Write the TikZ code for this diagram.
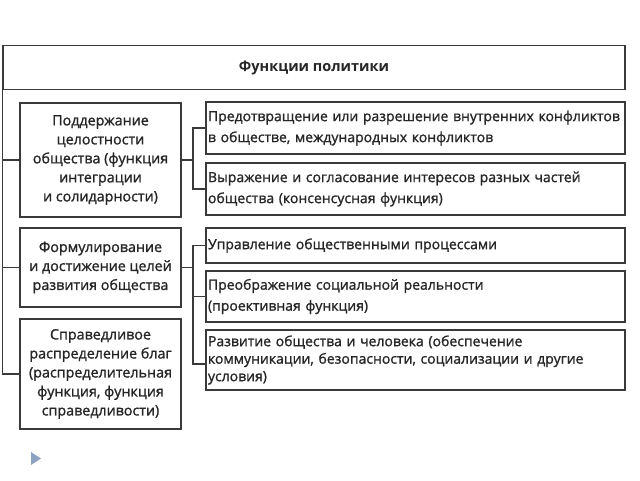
\documentclass[tikz,border=0pt]{standalone}
\usepackage{fontspec}
\setmainfont{Open Sans}
\newfontfamily\bodyfont{Open Sans}[FakeBold=1.2]
\definecolor{linec}{HTML}{3A3A3A}
\definecolor{textc}{HTML}{262626}
\definecolor{bullet}{RGB}{140,162,192}
\begin{document}
\begin{tikzpicture}[x=1pt,y=-1pt,
  box/.style={draw=linec,line width=1.3pt,inner sep=0pt,text=textc},
  leftbox/.style={box,minimum width=161pt,align=center,font=\bodyfont\fontsize{14.3}{19}\selectfont},
  rightbox/.style={box,minimum width=419pt,text width=415pt,align=left,font=\bodyfont\fontsize{14}{21}\selectfont},
  conn/.style={draw=linec,line width=1.3pt}]
\useasboundingbox (0,0) rectangle (640,480);
\fill[white] (0,0) rectangle (640,480);

\node[box,minimum width=622pt,minimum height=44pt,font=\fontsize{14.5}{18}\selectfont\bfseries] (T) at (314,67.5) {Функции политики};

\node[leftbox,minimum height=114pt] (L1) at (100.5,160) {Поддержание\\целостности\\общества (функция\\интеграции\\и солидарности)};
\node[leftbox,minimum height=79pt] (L2) at (100.5,267.5) {Формулирование\\и достижение целей\\развития общества};
\node[leftbox,minimum height=110pt] (L3) at (100.5,374) {Справедливое\\распределение благ\\(распределительная\\функция, функция\\справедливости)};

\node[rightbox,minimum height=52pt] (R1) at (415.5,128) {Предотвращение или разрешение внутренних конфликтов\\в обществе, международных конфликтов};
\node[rightbox,minimum height=52pt] (R2) at (415.5,189) {Выражение и согласование интересов разных частей\\общества (консенсусная функция)};
\node[rightbox,minimum height=35pt] (R3) at (415.5,245.5) {Управление общественными процессами};
\node[rightbox,minimum height=51pt] (R4) at (415.5,296.5) {Преображение социальной реальности\\(проективная функция)};
\node[rightbox,minimum height=60pt,font=\bodyfont\fontsize{14}{17.5}\selectfont] (R5) at (415.5,360) {Развитие общества и человека (обеспечение\\коммуникации, безопасности, социализации и другие\\условия)};

% left spine
\draw[conn] (T.south west) -- (T.south west |- L3.west) -- (L3.west);
\draw[conn] (T.south west |- L1.west) -- (L1.west);
\draw[conn] (T.south west |- L2.west) -- (L2.west);

% group 1
\coordinate (j1) at (193,160);
\draw[conn] (L1.east) -- (j1);
\draw[conn] (R1.west) -| (j1) |- (R2.west);

% group 2
\coordinate (j2) at (193,267.5);
\draw[conn] (L2.east) -- (j2);
\draw[conn] (R3.west) -| (j2) |- ([yshift=-4pt]R5.west);
\draw[conn] (j2 |- R4.west) -- (R4.west);

% slide bullet
\fill[bullet] (31,452) -- (41,458.5) -- (31,465) -- cycle;
\end{tikzpicture}
\end{document}
